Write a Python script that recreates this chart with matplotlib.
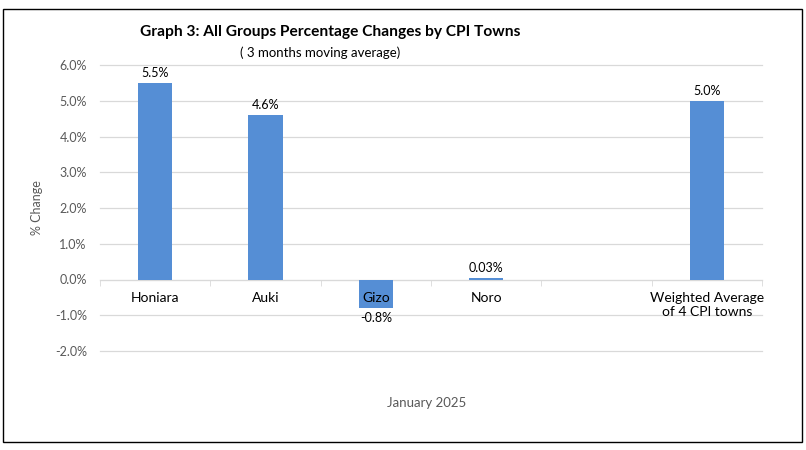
import matplotlib.pyplot as plt
import matplotlib.patches as mpatches
from matplotlib.ticker import FuncFormatter, FixedLocator

plt.rcParams['font.family'] = ['Lato', 'DejaVu Sans']

# data (January 2025, 3 months moving average)
towns = ['Honiara', 'Auki', 'Gizo', 'Noro', '', 'Weighted Average\nof 4 CPI towns']
changes = [5.5, 4.6, -0.8, 0.03, None, 5.0]
value_labels = ['5.5%', '4.6%', '-0.8%', '0.03%', '', '5.0%']

bar_color = '#558ed5'
grid_color = '#d9d9d9'
text_gray = '#595959'

fig = plt.figure(figsize=(8.06, 4.5), dpi=100)
ax = fig.add_axes([100 / 806, 99 / 450, 662 / 806, 286 / 450])

# outer chart border
fig.patches.append(mpatches.Rectangle((3 / 806, 8 / 450), 799 / 806, 433 / 450,
                                      transform=fig.transFigure, fill=False,
                                      edgecolor='black', linewidth=1.0))

xs = [i for i, v in enumerate(changes) if v is not None]
vals = [v for v in changes if v is not None]
ax.bar(xs, vals, width=0.31, color=bar_color, zorder=2)

for i, v in enumerate(changes):
    if v is None:
        continue
    off = 3 if v >= 0 else -3
    ax.annotate(value_labels[i], (i, v), xytext=(0, off), textcoords='offset points',
                ha='center', va='bottom' if v >= 0 else 'top', fontsize=9, color='black')

ax.set_xlim(-0.5, 5.5)
ax.set_ylim(-2, 6)
ax.yaxis.set_major_locator(FixedLocator([-2, -1, 0, 1, 2, 3, 4, 5, 6]))
ax.yaxis.set_major_formatter(FuncFormatter(lambda y, p: f'{y:.1f}%'))
ax.grid(axis='y', color=grid_color, linewidth=0.9)
for gl in ax.get_ygridlines():
    gl.set_clip_on(False)
ax.yaxis.set_zorder(0.5)
ax.xaxis.set_zorder(3)  # category labels sit on top of the bars (see Gizo)

ax.set_xticks(range(len(towns)))
ax.set_xticklabels(towns, fontsize=8, color=text_gray)
ax.set_xticks([i - 0.5 for i in range(len(towns) + 1)], minor=True)
ax.tick_params(axis='x', which='major', length=0, pad=9)
ax.tick_params(axis='x', which='minor', length=4, color=grid_color, direction='out')
ax.tick_params(axis='y', length=0, labelsize=9, labelcolor=text_gray, pad=9.5)

for s in ['top', 'right', 'left']:
    ax.spines[s].set_visible(False)
ax.spines['bottom'].set_position(('data', 0))
ax.spines['bottom'].set_color(grid_color)
ax.spines['bottom'].set_zorder(1)

ax.set_ylabel('% Change', fontsize=9, color=text_gray)
ax.yaxis.set_label_coords(-57 / 662, 0.5)
fig.text(427 / 806, 1 - 403 / 450, 'January 2025', ha='center', va='center',
         fontsize=9.5, color=text_gray)

fig.text(140 / 806, 1 - 32 / 450, 'Graph 3: All Groups Percentage Changes by CPI Towns',
         ha='left', va='center', fontsize=11.2, fontweight='bold', color='black')
fig.text(320.5 / 806, 1 - 53 / 450, '( 3 months moving average)', ha='center', va='center',
         fontsize=9.5, color='black')

fig.savefig('out.png', dpi=100)
